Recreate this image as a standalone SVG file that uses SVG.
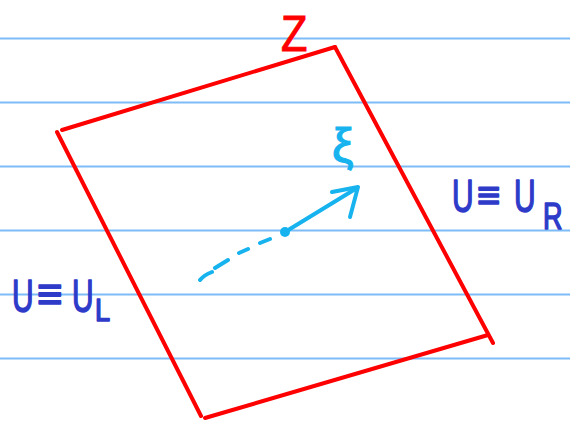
<svg xmlns="http://www.w3.org/2000/svg" width="570" height="421" viewBox="0 0 570 421">
  <style>
    .rule { stroke: #7dbcf7; stroke-width: 2; fill: none; }
    .red { stroke: #ff0000; stroke-width: 4; fill: none; stroke-linecap: round; stroke-linejoin: round; }
    .cyan { stroke: #16b3ef; stroke-width: 4; fill: none; stroke-linecap: round; stroke-linejoin: round; }
    .blue { fill: #2e3bc9; stroke: #2e3bc9; stroke-width: 1.6; stroke-linejoin: round; font-family: "Liberation Sans", Arial, sans-serif; }
  </style>
  <rect width="570" height="421" fill="#ffffff"/>
  <g id="rules">
    <line class="rule" x1="0" y1="38.5" x2="570" y2="38.5"/>
    <line class="rule" x1="0" y1="102.5" x2="570" y2="102.5"/>
    <line class="rule" x1="0" y1="166.5" x2="570" y2="166.5"/>
    <line class="rule" x1="0" y1="230.5" x2="570" y2="230.5"/>
    <line class="rule" x1="0" y1="294.5" x2="570" y2="294.5"/>
    <line class="rule" x1="0" y1="358.5" x2="570" y2="358.5"/>
  </g>
  <g id="surface">
    <line class="red" x1="62" y1="130" x2="335" y2="47"/>
    <line class="red" x1="335" y1="47" x2="493" y2="343"/>
    <line class="red" x1="488" y1="335" x2="205" y2="418"/>
    <line class="red" x1="57" y1="132" x2="201" y2="416"/>
    <text x="281" y="51" font-family="'Liberation Sans', Arial, sans-serif" font-size="48" fill="#ff0000" stroke="#ff0000" stroke-width="1" transform="translate(281,51) scale(0.9,1.05) translate(-281,-51)">Z</text>
  </g>
  <g id="normal">
    <path class="cyan" d="M200,280 Q204,275 212,272 M215,268 L228,260 M239,253 L248,249 M260,243 L270,239"/>
    <line class="cyan" x1="285" y1="232" x2="357" y2="188"/>
    <polyline class="cyan" points="332,192 358,187 350,217"/>
    <circle cx="285" cy="232" r="5" fill="#16b3ef"/>
    <text x="332" y="162" font-family="'Liberation Sans', 'DejaVu Sans', sans-serif" font-size="48" fill="#16b3ef" stroke="#16b3ef" stroke-width="1.2">ξ</text>
  </g>
  <g id="label-right">
    <text class="blue" font-size="46" transform="translate(452,212) scale(0.65,1)">U</text>
    <text class="blue" font-size="40" x="477" y="209">≡</text>
    <text class="blue" font-size="46" transform="translate(514,212) scale(0.65,1)">U</text>
    <text class="blue" font-size="36" transform="translate(543,229) scale(0.75,1)">R</text>
  </g>
  <g id="label-left">
    <text class="blue" font-size="46" transform="translate(12,312) scale(0.65,1)">U</text>
    <text class="blue" font-size="44" x="37" y="309">≡</text>
    <text class="blue" font-size="46" transform="translate(72,312) scale(0.65,1)">U</text>
    <text class="blue" font-size="32" transform="translate(95,321) scale(0.85,1)">L</text>
  </g>
</svg>
